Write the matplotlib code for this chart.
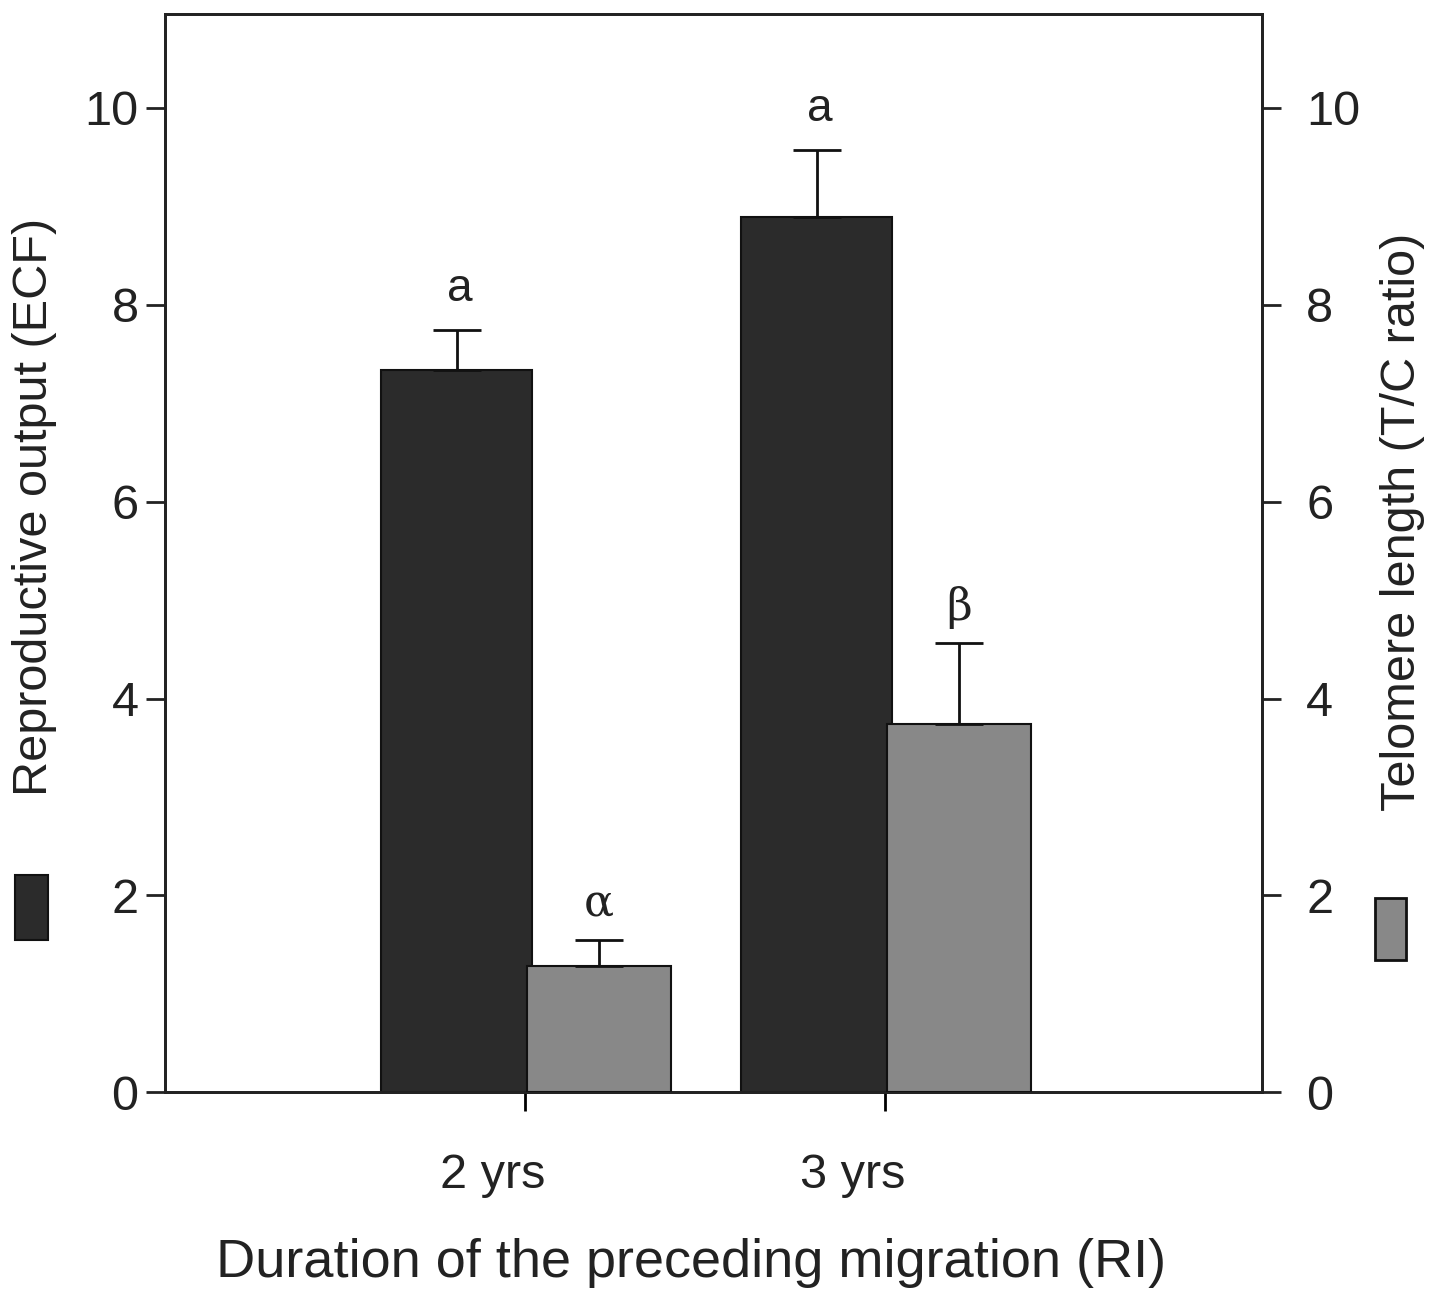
import matplotlib.pyplot as plt
from matplotlib.patches import Rectangle

plt.rcParams['font.family'] = ['Liberation Sans', 'DejaVu Sans']

groups = ['2 yrs', '3 yrs']
ecf_mean = [7.34, 8.89]
ecf_err = [0.40, 0.68]
tc_mean = [1.28, 3.74]
tc_err = [0.27, 0.82]
ecf_letters = ['a', 'a']
tc_letters = ['\u03b1', '\u03b2']

dark = '#2b2b2b'
grey = '#888888'
ink = '#222222'

fig = plt.figure(figsize=(14.47, 13.05), dpi=100)
ax = fig.add_axes([0.114, 0.163, 0.758, 0.826])
ax2 = ax.twinx()

x = [0, 1]
xd = [i - 0.19 for i in x]
xg = [i + 0.205 for i in x]

ax.bar(xd, ecf_mean, width=0.42, color=dark, edgecolor='#111111', linewidth=1.5, zorder=3)
ax.errorbar(xd, ecf_mean, yerr=[[0, 0], ecf_err], fmt='none', ecolor='#111111',
            elinewidth=2, capsize=17, capthick=2, zorder=4)
ax2.bar(xg, tc_mean, width=0.40, color=grey, edgecolor='#111111', linewidth=1.5, zorder=3)
ax2.errorbar(xg, tc_mean, yerr=[[0, 0], tc_err], fmt='none', ecolor='#111111',
             elinewidth=2, capsize=17, capthick=2, zorder=4)

for xi, m, e, t in zip(xd, ecf_mean, ecf_err, ecf_letters):
    ax.text(xi + 0.01, m + e + 0.2, t, ha='center', va='bottom', fontsize=33, color=ink)
for xi, m, e, t in zip(xg, tc_mean, tc_err, tc_letters):
    ax2.text(xi, m + e + 0.15, t, ha='center', va='bottom', fontsize=32, color=ink,
             family='DejaVu Serif')

ax.set_xlim(-1.0, 2.047)
ax.set_ylim(0, 10.95)
ax2.set_ylim(0, 10.95)

ax.set_xticks(x)
ax.set_xticklabels([])
for xi, g in zip(x, groups):
    ax.text(xi - 0.09, -0.62, g, ha='center', va='top', fontsize=35, color=ink)

ax.set_yticks([0, 2, 4, 6, 8, 10])
ax2.set_yticks([0, 2, 4, 6, 8, 10])
ax.tick_params(axis='y', direction='out', length=14, width=2, labelsize=35, pad=5,
               colors=ink)
ax2.tick_params(axis='y', direction='out', length=14, width=2, labelsize=35, pad=18,
                colors=ink)
ax.tick_params(axis='x', direction='out', length=14, width=2)

for a in (ax, ax2):
    for s in a.spines.values():
        s.set_linewidth(2)
        s.set_color(ink)

ax.set_ylabel('Reproductive output (ECF)', fontsize=35, color=ink)
ax.yaxis.set_label_coords(-0.098, 0.543)
ax2.set_ylabel('Telomere length (T/C ratio)', fontsize=35, color=ink)
ax2.yaxis.set_label_coords(1.108, 0.529)
ax.set_xlabel('Duration of the preceding migration (RI)', fontsize=39, color=ink)
ax.xaxis.set_label_coords(0.48, -0.135)

# legend swatches beside the axis labels
fig.patches.append(Rectangle((15 / 1447, 1 - 940 / 1305), 33 / 1447, 65 / 1305,
                             transform=fig.transFigure, facecolor=dark,
                             edgecolor='#111111', linewidth=1.5))
fig.patches.append(Rectangle((1375 / 1447, 1 - 960 / 1305), 31 / 1447, 62 / 1305,
                             transform=fig.transFigure, facecolor=grey,
                             edgecolor='#111111', linewidth=2))

fig.savefig('out.png', dpi=100)
